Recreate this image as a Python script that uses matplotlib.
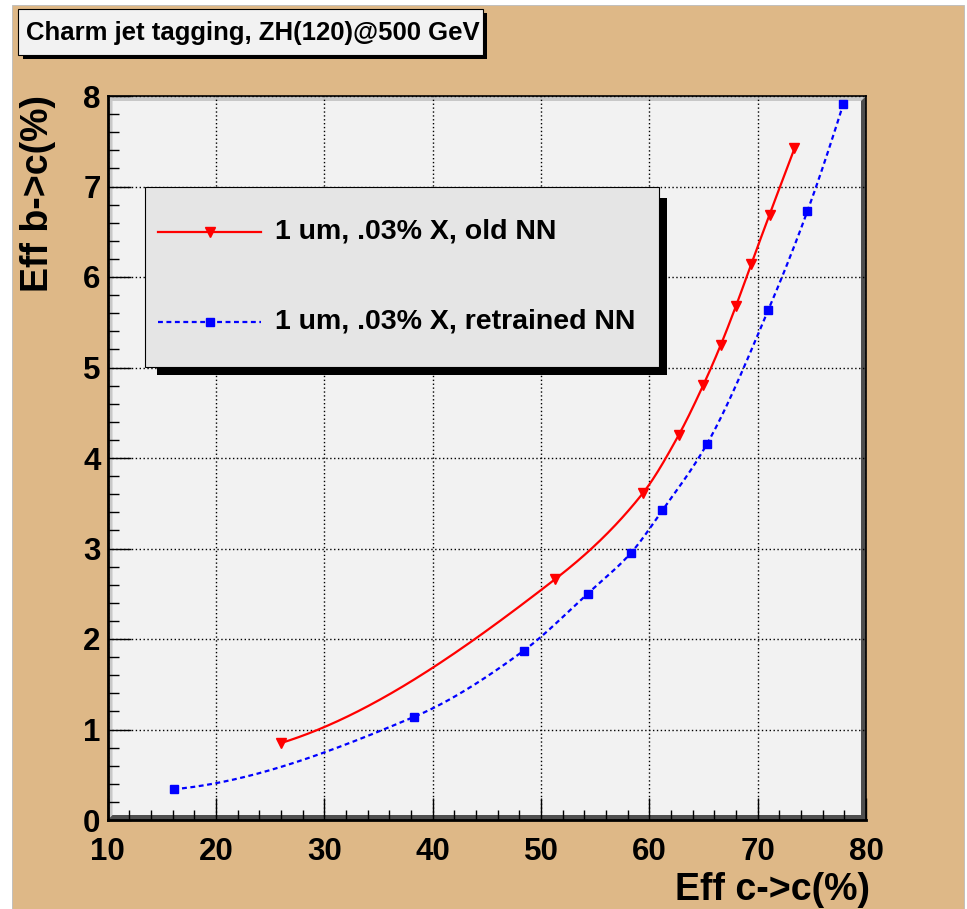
import numpy as np
import matplotlib
matplotlib.use("Agg")
import matplotlib.pyplot as plt
from matplotlib.patches import Rectangle, Polygon
from matplotlib.lines import Line2D

plt.rcParams['font.family'] = ['Liberation Sans', 'DejaVu Sans']
plt.rcParams['font.weight'] = 'bold'

# ---------------- data ----------------
old_x = [26.0, 51.3, 59.4, 62.7, 65.0, 66.6, 68.0, 69.4, 71.1, 73.4]
old_y = [0.85, 2.66, 3.61, 4.25, 4.81, 5.25, 5.68, 6.14, 6.69, 7.42]
new_x = [16.1, 38.3, 48.4, 54.3, 58.3, 61.2, 65.3, 71.0, 74.6, 77.9]
new_y = [0.34, 1.14, 1.87, 2.50, 2.95, 3.42, 4.15, 5.64, 6.73, 7.91]
old_label = "1 um, .03% X, old NN"
new_label = "1 um, .03% X, retrained NN"
title = "Charm jet tagging, ZH(120)@500 GeV"
xlabel = "Eff c->c(%)"
ylabel = "Eff b->c(%)"
x_ticks = [10, 20, 30, 40, 50, 60, 70, 80]
y_ticks = [0, 1, 2, 3, 4, 5, 6, 7, 8]

W, H = 967, 909
TAN = '#deb887'


def smooth(x, y, n=400):
    """Monotone cubic (PCHIP) curve through the points, like ROOT's "C" drawing."""
    x = np.asarray(x, float)
    y = np.asarray(y, float)
    h = np.diff(x)
    d = np.diff(y) / h
    m = len(x)
    s = np.zeros(m)
    for k in range(1, m - 1):
        if d[k - 1] * d[k] > 0:
            w1 = 2 * h[k] + h[k - 1]
            w2 = h[k] + 2 * h[k - 1]
            s[k] = (w1 + w2) / (w1 / d[k - 1] + w2 / d[k])

    def end(h0, h1, d0, d1):
        v = ((2 * h0 + h1) * d0 - h0 * d1) / (h0 + h1)
        if np.sign(v) != np.sign(d0):
            v = 0.0
        elif np.sign(d0) != np.sign(d1) and abs(v) > abs(3 * d0):
            v = 3 * d0
        return v

    s[0] = end(h[0], h[1], d[0], d[1])
    s[-1] = end(h[-1], h[-2], d[-1], d[-2])
    xs = np.linspace(x[0], x[-1], n)
    idx = np.clip(np.searchsorted(x, xs) - 1, 0, m - 2)
    hh = h[idx]
    t = (xs - x[idx]) / hh
    h00 = 2 * t ** 3 - 3 * t ** 2 + 1
    h10 = t ** 3 - 2 * t ** 2 + t
    h01 = -2 * t ** 3 + 3 * t ** 2
    h11 = t ** 3 - t ** 2
    ys = h00 * y[idx] + h10 * hh * s[idx] + h01 * y[idx + 1] + h11 * hh * s[idx + 1]
    return xs, ys


def fx(px):
    return px / W


def fy(py):
    return 1 - py / H


fig = plt.figure(figsize=(W / 100, H / 100), dpi=100)
fig.patch.set_facecolor('white')

# canvas tan area
fig.patches.append(Rectangle((fx(12), fy(909)), fx(964) - fx(12), fy(5) - fy(909),
                             transform=fig.transFigure, facecolor=TAN,
                             edgecolor='#bbbbbb', lw=0.6, zorder=-10))

L, R, T, B = 107.5, 866.0, 96.0, 820.0
ax = fig.add_axes([fx(L), fy(B), fx(R) - fx(L), fy(T) - fy(B)])
ax.set_facecolor('#f2f2f2')
ax.set_xlim(10, 80)
ax.set_ylim(0, 8)

# bevel of the frame
bw = 5
light = '#c8c8c8'
dark = '#4f4f4f'
bevels = [
    ([(L, B), (L, T), (R, T), (R - bw, T + bw), (L + bw, T + bw), (L + bw, B - bw)], light),
    ([(L, B), (R, B), (R, T), (R - bw, T + bw), (R - bw, B - bw), (L + bw, B - bw)], dark),
]
for pts, col in bevels:
    ax.add_patch(Polygon([(fx(p[0]), fy(p[1])) for p in pts], closed=True,
                         transform=fig.transFigure, facecolor=col, edgecolor='none',
                         zorder=0.5))

ax.grid(True, which='major', color='black', linestyle=(0, (1, 1.8)), lw=1.0)
ax.set_axisbelow(False)

# curves
sx, sy = smooth(old_x, old_y)
ax.plot(sx, sy, color='#ff0000', lw=1.6, zorder=3, clip_on=False)
ax.plot(old_x, old_y, linestyle='none', marker='v', ms=7.5, color='#ff0000',
        mec='#ff0000', zorder=4, clip_on=False)
bx, by = smooth(new_x, new_y)
ax.plot(bx, by, color='#0000ff', lw=1.6, linestyle=(0, (2.2, 1.6)), zorder=3,
        clip_on=False)
ax.plot(new_x, new_y, linestyle='none', marker='s', ms=6, color='#0000ff',
        mec='#0000ff', zorder=4, clip_on=False)

# ticks
ax.set_xticks(x_ticks)
ax.set_yticks(y_ticks)
ax.set_xticks(np.arange(10, 80.1, 2), minor=True)
ax.set_yticks(np.arange(0, 8.01, 0.2), minor=True)
ax.tick_params(axis='both', which='both', direction='in', top=False, right=False,
               color='black', width=1.0)
ax.tick_params(axis='x', which='major', length=16, labelsize=22.5, pad=12)
ax.tick_params(axis='x', which='minor', length=7.5)
ax.tick_params(axis='y', which='major', length=16.5, labelsize=22.5, pad=5)
ax.tick_params(axis='y', which='minor', length=8)
for lab in ax.get_xticklabels() + ax.get_yticklabels():
    lab.set_fontweight('bold')
for s in ['left', 'bottom']:
    ax.spines[s].set_linewidth(2.0)
for s in ['right', 'top']:
    ax.spines[s].set_linewidth(1.2)
for s in ax.spines.values():
    s.set_zorder(6)

# axis titles
fig.text(fx(870), fy(890), xlabel, ha='right', va='center', fontsize=27,
         fontweight='bold')
fig.text(fx(38), fy(95), ylabel, ha='center', va='top', rotation=90, fontsize=27,
         fontweight='bold')

# title box
fig.patches.append(Rectangle((fx(23), fy(59)), fx(487) - fx(23), fy(13) - fy(59),
                             transform=fig.transFigure, facecolor='black',
                             edgecolor='none', zorder=1))
fig.patches.append(Rectangle((fx(18), fy(55)), fx(483) - fx(18), fy(9) - fy(55),
                             transform=fig.transFigure, facecolor='#f2f2f2',
                             edgecolor='black', lw=0.8, zorder=2))
fig.text(fx(26), fy(33), title, ha='left', va='center', fontsize=18.5,
         fontweight='bold', zorder=3)

# legend
ax.add_patch(Rectangle((fx(157), fy(375)), fx(667) - fx(157), fy(198) - fy(375),
                       transform=fig.transFigure, facecolor='black', edgecolor='none',
                       zorder=7, clip_on=False))
ax.add_patch(Rectangle((fx(145), fy(367)), fx(659) - fx(145), fy(187) - fy(367),
                       transform=fig.transFigure, facecolor='#e5e5e5',
                       edgecolor='black', lw=0.8, zorder=8, clip_on=False))
entries = [
    (231.7, old_label, dict(color='#ff0000', lw=1.6, marker='v', ms=7.5,
                            markevery=[1])),
    (322.0, new_label, dict(color='#0000ff', lw=1.6, linestyle=(0, (2.2, 1.6)),
                            marker='s', ms=6, markevery=[1])),
]
for yy, lab, kw in entries:
    ln = Line2D([fx(158), fx(210), fx(261)], [fy(yy)] * 3, transform=fig.transFigure,
                zorder=9, **kw)
    ax.add_line(ln)
    ln.set_clip_on(False)
    fig.text(fx(275), fy(yy), lab, ha='left', va='center', fontsize=20.5,
             fontweight='bold', zorder=10)

fig.savefig('out.png', dpi=100, facecolor=fig.get_facecolor())
